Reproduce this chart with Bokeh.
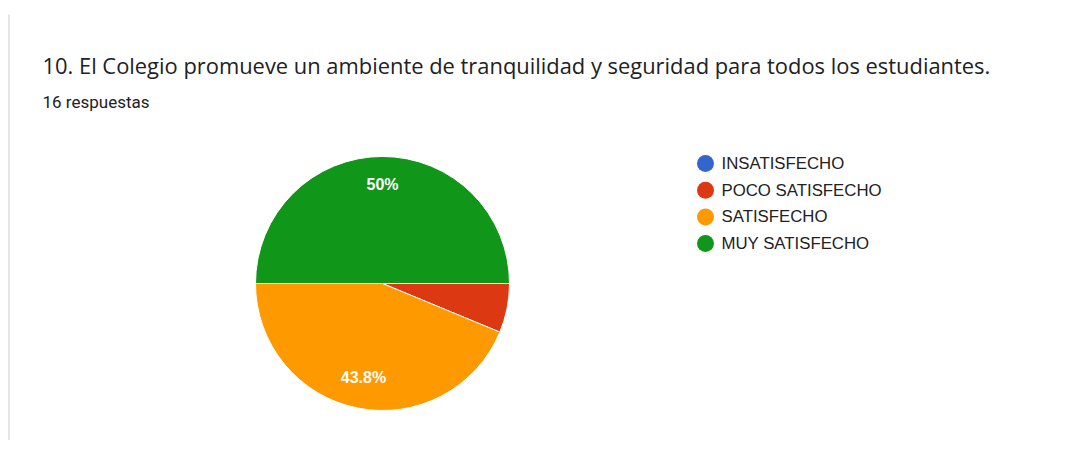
from bokeh.plotting import figure
from bokeh.models import ColumnDataSource, Range1d
from bokeh.core.properties import value
from bokeh.embed import file_html
from bokeh.resources import INLINE
import numpy as np

# ---- data ----
title = "10. El Colegio promueve un ambiente de tranquilidad y seguridad para todos los estudiantes."
subtitle = "16 respuestas"
categories = ["INSATISFECHO", "POCO SATISFECHO", "SATISFECHO", "MUY SATISFECHO"]
counts = [0, 1, 7, 8]
colors = ["#3366cc", "#dc3912", "#ff9900", "#109618"]
pct_labels = ["", "", "43.8%", "50%"]

W, H = 1067, 440
p = figure(width=W, height=H, x_range=Range1d(0, W), y_range=Range1d(0, H),
           output_backend="svg", toolbar_location=None, min_border=0)
p.axis.visible = False
p.grid.visible = False
p.outline_line_color = None
p.background_fill_color = "white"
p.border_fill_color = "white"

def px(X):
    return X
def py(Y):
    return H - Y

# card left border
p.segment(x0=[8.5], y0=[py(14)], x1=[8.5], y1=[py(452)], line_color="#dadce0", line_width=1.5)

# title texts
p.text(x=[px(42)], y=[py(65)], text=[title], text_font=value("Open Sans"), text_font_size="21.9px",
       text_color="#202124", text_baseline="alphabetic", text_align="left")
p.text(x=[px(42)], y=[py(101)], text=[subtitle], text_font=value("Roboto"), text_font_size="17px",
       text_color="#202124", text_baseline="alphabetic", text_align="left")

# pie
total = sum(counts)
fracs = np.array(counts) / total
ends = np.cumsum(fracs) * 2 * np.pi
starts = np.concatenate([[0], ends[:-1]])
cx, cy, r = px(382), py(283), 127
keep = [i for i, c in enumerate(counts) if c > 0]
src2 = ColumnDataSource(dict(start=[-starts[i] for i in keep], end=[-ends[i] for i in keep],
                             color=[colors[i] for i in keep]))
p.wedge(x=cx, y=cy, radius=r, radius_units="screen", start_angle="start", end_angle="end",
        direction="clock", fill_color="color", line_color="white", line_width=1, source=src2)

# percent labels
mid = (starts + ends) / 2
lx, ly, lt = [], [], []
for i in keep:
    if pct_labels[i]:
        rr = 0.77 * r
        lx.append(cx + rr * np.cos(-mid[i]))
        ly.append(cy + rr * np.sin(-mid[i]) + 1.5)
        lt.append(pct_labels[i])
p.text(x=lx, y=ly, text=lt, text_font=value("Liberation Sans"), text_font_size="16px",
       text_color="white", text_align="center", text_baseline="middle", text_font_style="bold")

# legend
ys = [py(163 + 26.7 * i) for i in range(len(categories))]
p.scatter(x=[px(705)] * len(categories), y=ys, size=17, marker="circle",
          fill_color=colors, line_color=None)
p.text(x=[px(721)] * len(categories), y=ys, text=categories, text_font=value("Liberation Sans"),
       text_font_size="16.8px", text_color="#222222", text_baseline="middle", text_align="left")

open("out.html", "w").write(file_html(p, INLINE))
